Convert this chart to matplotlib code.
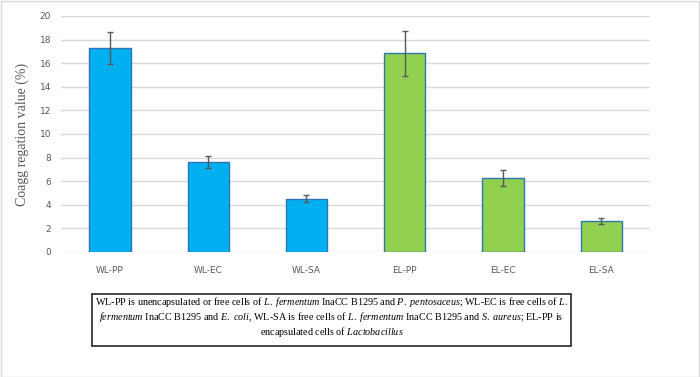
import matplotlib
matplotlib.use("Agg")
import matplotlib.pyplot as plt
from matplotlib.patches import Rectangle

# dados
grupos = ["WL-PP", "WL-EC", "WL-SA", "EL-PP", "EL-EC", "EL-SA"]
valores = [17.3, 7.65, 4.5, 16.85, 6.25, 2.65]
erros = [1.33, 0.5, 0.3, 1.9, 0.68, 0.25]
cores_barras = ["#00B0F0", "#00B0F0", "#00B0F0", "#92D050", "#92D050", "#92D050"]

legenda_linhas = [
    r"WL-PP is unencapsulated or free cells of $\mathit{L.\ fermentum}$ InaCC B1295 and "
    r"$\mathit{P.\ pentosaceus}$; WL-EC is free cells of $\mathit{L.}$",
    r"$\mathit{fermentum}$ InaCC B1295 and $\mathit{E.\ coli}$, WL-SA is free cells of "
    r"$\mathit{L.\ fermentum}$ InaCC B1295 and $\mathit{S.\ aureus}$; EL-PP is",
    r"encapsulated cells of $\mathit{Lactobacillus}$",
]

plt.rcParams["mathtext.fontset"] = "custom"
plt.rcParams["mathtext.rm"] = "Liberation Serif"
plt.rcParams["mathtext.it"] = "Liberation Serif:italic"

fig = plt.figure(figsize=(7, 3.77), dpi=100)
ax = fig.add_axes([0.087, 0.3316, 0.842, 0.626])

x = list(range(len(grupos)))
ax.bar(x, valores, 0.42, color=cores_barras, edgecolor="#2E75B6", linewidth=1.0,
       yerr=erros, error_kw=dict(ecolor="#595959", elinewidth=1.0, capsize=2.5, capthick=1.0),
       zorder=3)

ax.set_xlim(-0.5, len(grupos) - 0.5)
ax.set_ylim(0, 20)
ax.set_yticks(range(0, 21, 2))
ax.set_xticks(x)
ax.set_xticklabels(grupos)
ax.tick_params(axis="both", length=0, labelsize=6.5, colors="#595959")
ax.tick_params(axis="x", pad=10)
ax.tick_params(axis="y", pad=7)
ax.grid(axis="y", color="#D9D9D9", linewidth=1.0, zorder=0)
for s in ax.spines.values():
    s.set_visible(False)
ax.set_ylabel("Coagg regation value (%)", family="Liberation Serif", fontsize=10,
              color="#595959", labelpad=8)

# caixa de legenda
fig.patches.append(Rectangle((92 / 700, 1 - 346 / 377), 479 / 700, 52 / 377,
                             transform=fig.transFigure, fill=False,
                             edgecolor="#262626", linewidth=1.2))
for i, linha in enumerate(legenda_linhas):
    fig.text(331.5 / 700, 1 - (302 + i * 15) / 377, linha, ha="center", va="center",
             family="Liberation Serif", fontsize=7.3, color="#000000")

# borda externa
fig.patches.append(Rectangle((0.001, 0.001), 0.997, 0.996, transform=fig.transFigure,
                             fill=False, edgecolor="#D9D9D9", linewidth=1.0))

fig.savefig("out.png", dpi=100)
